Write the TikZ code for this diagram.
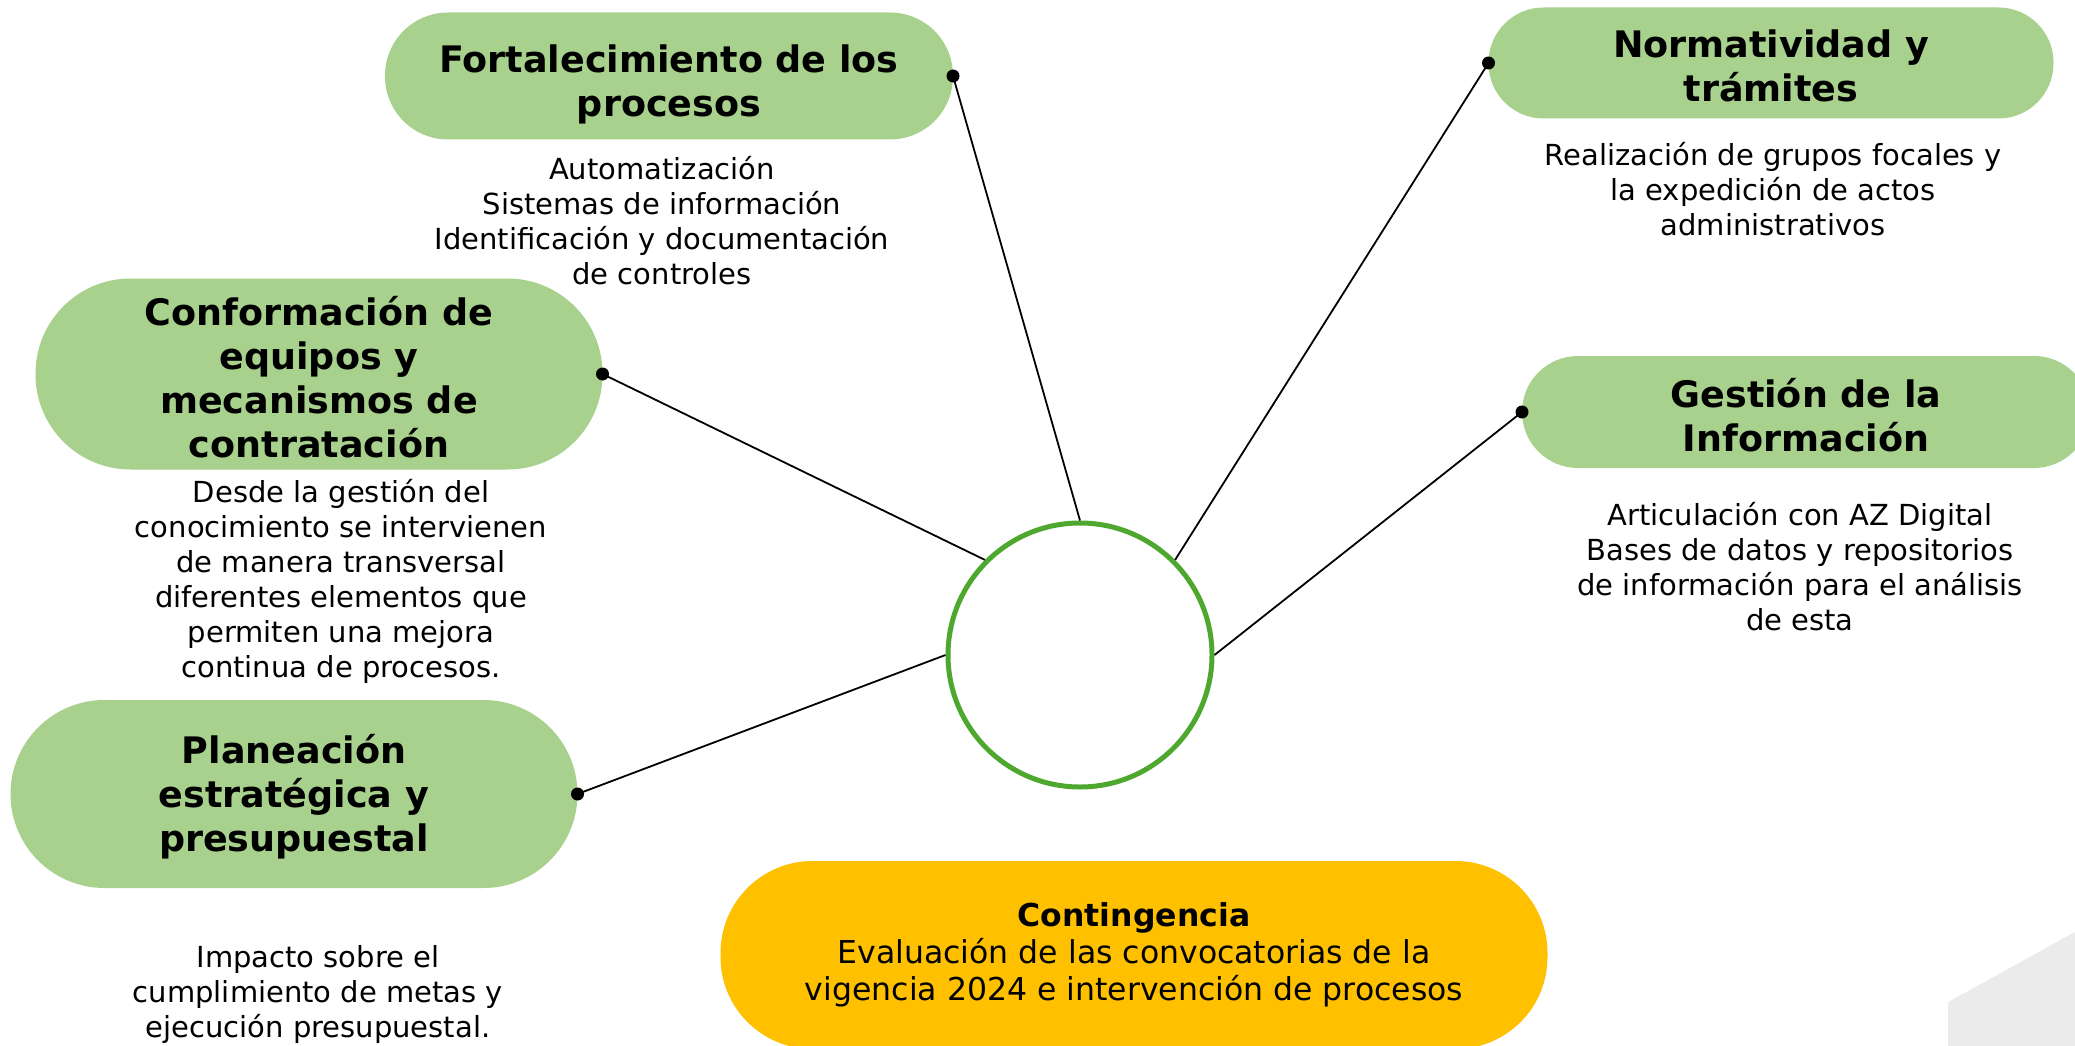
\documentclass[tikz,border=0pt]{standalone}
\usepackage{fontspec}
\setmainfont{DejaVu Sans}
\definecolor{boxgreen}{HTML}{A9D18E}
\definecolor{ringgreen}{HTML}{4EA72E}
\definecolor{contyellow}{HTML}{FFC000}
\definecolor{bggray}{HTML}{EBEBEB}
\begin{document}
\begin{tikzpicture}[x=1pt,y=-1pt,
 pill/.style={fill=boxgreen, draw=none, inner sep=0pt, outer sep=0pt},
 pilltext/.style={align=center, font=\fontsize{36.5}{44}\selectfont\bfseries, inner sep=0pt},
 desc/.style={align=center, font=\fontsize{29}{35}\selectfont, inner sep=0pt},
 link/.style={line width=1.8pt, black},
 dotend/.style={circle, fill=black, inner sep=0pt, minimum size=13pt}]
\useasboundingbox (0,0) rectangle (2075,1046);
\fill[bggray] (1948,1046) -- (1948,1002) -- (2075,932) -- (2075,1046) -- cycle;

\node[pill, minimum width=568pt, minimum height=127pt, rounded corners=63pt] (fort) at (669,76) {};
\node[pilltext] (fortt) at (669,84) {Fortalecimiento de los\\procesos};
\node[pill, minimum width=565pt, minimum height=111pt, rounded corners=55pt] (norm) at (1771,63) {};
\node[pilltext] (normt) at (1771,66) {Normatividad y\\trámites};
\node[pill, minimum width=567pt, minimum height=191pt, rounded corners=95pt] (conf) at (319,374) {};
\node[pilltext] (conft) at (319,377) {Conformación de\\equipos y\\mecanismos de\\contratación};
\node[pill, minimum width=567pt, minimum height=188pt, rounded corners=94pt] (plan) at (294,794) {};
\node[pilltext] (plant) at (294,797) {Planeación\\estratégica y\\presupuestal};
\node[pill, minimum width=568pt, minimum height=112pt, rounded corners=56pt] (gest) at (1806,412) {};
\node[pilltext] (gestt) at (1806,415) {Gestión de la\\Información};

\node[desc] (fortd) at (662,221) {Automatización\\Sistemas de información\\Identificación y documentación\\de controles};
\node[desc] (normd) at (1773,189) {Realización de grupos focales y\\la expedición de actos\\administrativos};
\node[desc] (confd) at (341,581) {Desde la gestión del\\conocimiento se intervienen\\de manera transversal\\diferentes elementos que\\permiten una mejora\\continua de procesos.};
\node[desc] (pland) at (318,994) {Impacto sobre el\\cumplimiento de metas y\\ejecución presupuestal.};
\node[desc] (gestd) at (1800,567) {Articulación con AZ Digital\\Bases de datos y repositorios\\de información para el análisis\\de esta};

\node[circle, draw=ringgreen, line width=5pt, fill=white, minimum size=264pt, inner sep=0pt] (hub) at (1080,655) {};

\node[dotend] (fortdot) at (fort.east) {};
\node[dotend] (normdot) at (norm.west) {};
\node[dotend] (confdot) at (conf.east) {};
\node[dotend] (plandot) at (plan.east) {};
\node[dotend] (gestdot) at (gest.west) {};

\draw[link] (fortdot.center) -- (hub.north);
\draw[link] (normdot.center) -- (hub.north east);
\draw[link] (confdot.center) -- (hub.north west);
\draw[link] (plandot.center) -- (hub.west);
\draw[link] (gestdot.center) -- (hub.east);

\node[fill=contyellow, minimum width=827pt, minimum height=188pt, rounded corners=92pt, align=center, inner sep=0pt, font=\fontsize{31.5}{37}\selectfont] (cont) at (1134,955) {\textbf{Contingencia}\\Evaluación de las convocatorias de la\\vigencia 2024 e intervención de procesos};
\end{tikzpicture}
\end{document}
